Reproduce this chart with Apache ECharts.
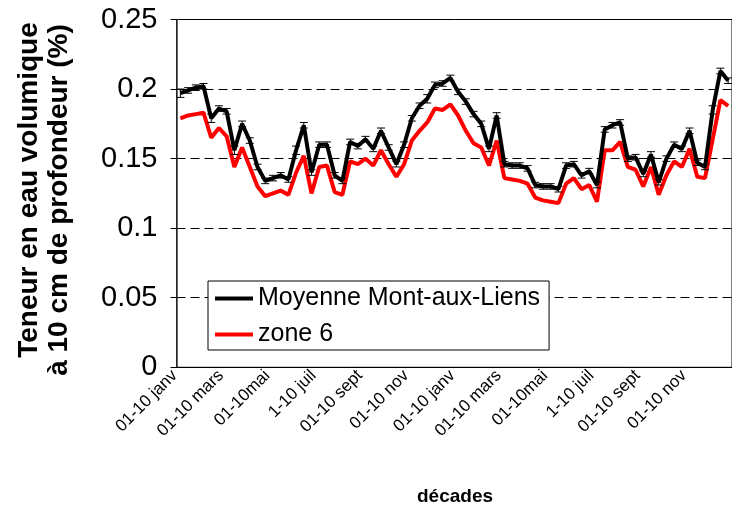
<!DOCTYPE html>
<html>
<head>
<meta charset="utf-8">
<script src="https://cdn.jsdelivr.net/npm/echarts@6/dist/echarts.min.js"></script>
<style>
  html, body { margin: 0; padding: 0; background: #fff; }
  #chart { width: 732px; height: 509px; }
</style>
</head>
<body>
<div id="chart"></div>
<script>
// Soil water content at 10 cm depth, by ten-day period (décade), over two years
const months = ['janv', 'févr', 'mars', 'avr', 'mai', 'juin', 'juil', 'août', 'sept', 'oct', 'nov', 'déc'];
const decadeParts = ['01-10', '11-20', '21-31'];

// Labels shown under the axis, one every six décades
const xTickLabels = ['01-10 janv', '01-10 mars', '01-10mai', '1-10 juil', '01-10 sept', '01-10 nov',
                     '01-10 janv', '01-10 mars', '01-10mai', '1-10 juil', '01-10 sept', '01-10 nov'];
const yTickLabels = ['0', '0.05', '0.1', '0.15', '0.2', '0.25'];

// Site average (Moyenne Mont-aux-Liens)
const moyenne = [
  0.197, 0.199, 0.201, 0.202, 0.179, 0.186, 0.184, 0.156, 0.175, 0.163, 0.144, 0.134,
  0.136, 0.138, 0.135, 0.156, 0.174, 0.140, 0.160, 0.160, 0.138, 0.134, 0.162, 0.159,
  0.164, 0.157, 0.170, 0.158, 0.146, 0.160, 0.179, 0.188, 0.193, 0.203, 0.204, 0.208,
  0.198, 0.191, 0.182, 0.175, 0.157, 0.181, 0.146, 0.145, 0.145, 0.143, 0.131, 0.130,
  0.130, 0.128, 0.145, 0.146, 0.138, 0.141, 0.131, 0.171, 0.174, 0.176, 0.150, 0.151,
  0.139, 0.153, 0.133, 0.150, 0.160, 0.157, 0.170, 0.147, 0.144, 0.185, 0.213, 0.206
];

// Standard error of the site average
const moyenneErr = [
  0.003, 0.002, 0.002, 0.002, 0.003, 0.002, 0.002, 0.003, 0.002, 0.002, 0.002, 0.002,
  0.002, 0.002, 0.002, 0.003, 0.002, 0.002, 0.002, 0.002, 0.002, 0.002, 0.002, 0.002,
  0.002, 0.002, 0.002, 0.002, 0.002, 0.002, 0.002, 0.002, 0.003, 0.002, 0.002, 0.002,
  0.002, 0.002, 0.002, 0.002, 0.002, 0.002, 0.002, 0.002, 0.002, 0.002, 0.002, 0.002,
  0.002, 0.002, 0.002, 0.002, 0.002, 0.002, 0.002, 0.002, 0.002, 0.002, 0.002, 0.002,
  0.002, 0.002, 0.002, 0.002, 0.002, 0.002, 0.002, 0.002, 0.002, 0.003, 0.002, 0.002
];

// Zone 6
const zone6 = [
  0.179, 0.181, 0.182, 0.183, 0.165, 0.172, 0.166, 0.144, 0.158, 0.144, 0.130, 0.123,
  0.125, 0.127, 0.124, 0.140, 0.152, 0.125, 0.144, 0.145, 0.126, 0.124, 0.148, 0.146,
  0.150, 0.145, 0.156, 0.146, 0.137, 0.146, 0.163, 0.170, 0.176, 0.186, 0.185, 0.189,
  0.181, 0.170, 0.161, 0.158, 0.145, 0.163, 0.136, 0.135, 0.134, 0.132, 0.122, 0.120,
  0.119, 0.118, 0.132, 0.136, 0.128, 0.131, 0.119, 0.156, 0.156, 0.162, 0.144, 0.142,
  0.130, 0.144, 0.124, 0.138, 0.148, 0.144, 0.157, 0.137, 0.136, 0.164, 0.192, 0.188
];

// Two years of décades as category names
const decades = [];
for (let y = 0; y < 2; y++) {
  for (const m of months) {
    for (const d of decadeParts) decades.push(d + ' ' + m);
  }
}

const FONT = '"Liberation Sans", Arial, sans-serif';
const chart = echarts.init(document.getElementById('chart'), null, { renderer: 'canvas' });

const errData = moyenne.map((v, i) => [i, v, moyenneErr[i]]);

chart.setOption({
  backgroundColor: '#ffffff',
  animation: false,
  textStyle: { fontFamily: FONT },
  grid: {
    left: 176.5, right: -7.5, top: 19.5, bottom: 141.7,
    show: true, borderColor: '#000', borderWidth: 1, backgroundColor: 'transparent'
  },
  legend: {
    orient: 'vertical',
    left: 208, top: 281,
    padding: [5, 9, 3, 7],
    itemWidth: 38, itemHeight: 4, itemGap: 11,
    icon: 'rect',
    backgroundColor: '#fff',
    borderColor: '#000', borderWidth: 1,
    textStyle: { fontSize: 25, color: '#000', fontFamily: FONT },
    data: ['Moyenne Mont-aux-Liens', 'zone 6']
  },
  xAxis: {
    type: 'category',
    data: decades,
    boundaryGap: true,
    axisLine: { lineStyle: { color: '#000', width: 1 } },
    axisTick: { interval: 5, length: 6, lineStyle: { color: '#000' } },
    axisLabel: {
      interval: 5, rotate: 45, margin: 0,
      fontSize: 17, color: '#000', fontFamily: FONT,
      padding: [0, 8, 0, 0],
      formatter: (val, idx) => xTickLabels[Math.floor(idx / 6)] || ''
    },
    splitLine: { show: false }
  },
  yAxis: {
    type: 'value',
    min: 0, max: 0.25, interval: 0.05,
    axisLine: { show: true, lineStyle: { color: '#333', width: 1.5 } },
    axisTick: { show: true, length: 6, lineStyle: { color: '#000' } },
    axisLabel: {
      margin: 19, fontSize: 29, color: '#000', fontFamily: FONT,
      formatter: (val, idx) => yTickLabels[idx]
    },
    splitLine: { show: true, lineStyle: { color: '#000', width: 1, type: [9, 5] } }
  },
  series: [
    {
      name: 'Moyenne Mont-aux-Liens',
      type: 'line',
      data: moyenne,
      showSymbol: false,
      lineStyle: { color: '#000', width: 4 },
      itemStyle: { color: '#000' },
      z: 3
    },
    {
      name: 'zone 6',
      type: 'line',
      data: zone6,
      showSymbol: false,
      lineStyle: { color: '#ff0000', width: 4 },
      itemStyle: { color: '#ff0000' },
      z: 2
    },
    {
      name: 'erreur',
      type: 'custom',
      data: errData,
      encode: { x: 0, y: 1 },
      z: 4,
      renderItem: function (params, api) {
        const i = api.value(0);
        const v = api.value(1);
        const e = api.value(2);
        const hi = api.coord([i, v + e]);
        const lo = api.coord([i, v - e]);
        const hw = 4;
        const style = { stroke: '#000', lineWidth: 1 };
        return {
          type: 'group',
          children: [
            { type: 'line', shape: { x1: hi[0], y1: hi[1], x2: lo[0], y2: lo[1] }, style },
            { type: 'line', shape: { x1: hi[0] - hw, y1: hi[1], x2: hi[0] + hw, y2: hi[1] }, style },
            { type: 'line', shape: { x1: lo[0] - hw, y1: lo[1], x2: lo[0] + hw, y2: lo[1] }, style }
          ]
        };
      }
    }
  ],
  graphic: [
    {
      type: 'text', x: 29, y: 190, rotation: Math.PI / 2,
      style: {
        text: 'Teneur en eau volumique', fill: '#000',
        font: 'bold 28px ' + FONT, align: 'center', verticalAlign: 'middle'
      }
    },
    {
      type: 'text', x: 59, y: 200, rotation: Math.PI / 2,
      style: {
        text: 'à 10 cm de profondeur (%)', fill: '#000',
        font: 'bold 28px ' + FONT, align: 'center', verticalAlign: 'middle'
      }
    },
    {
      type: 'text', x: 455, y: 497,
      style: {
        text: 'décades', fill: '#000',
        font: 'bold 19px ' + FONT, align: 'center', verticalAlign: 'middle'
      }
    }
  ]
});
</script>
</body>
</html>
